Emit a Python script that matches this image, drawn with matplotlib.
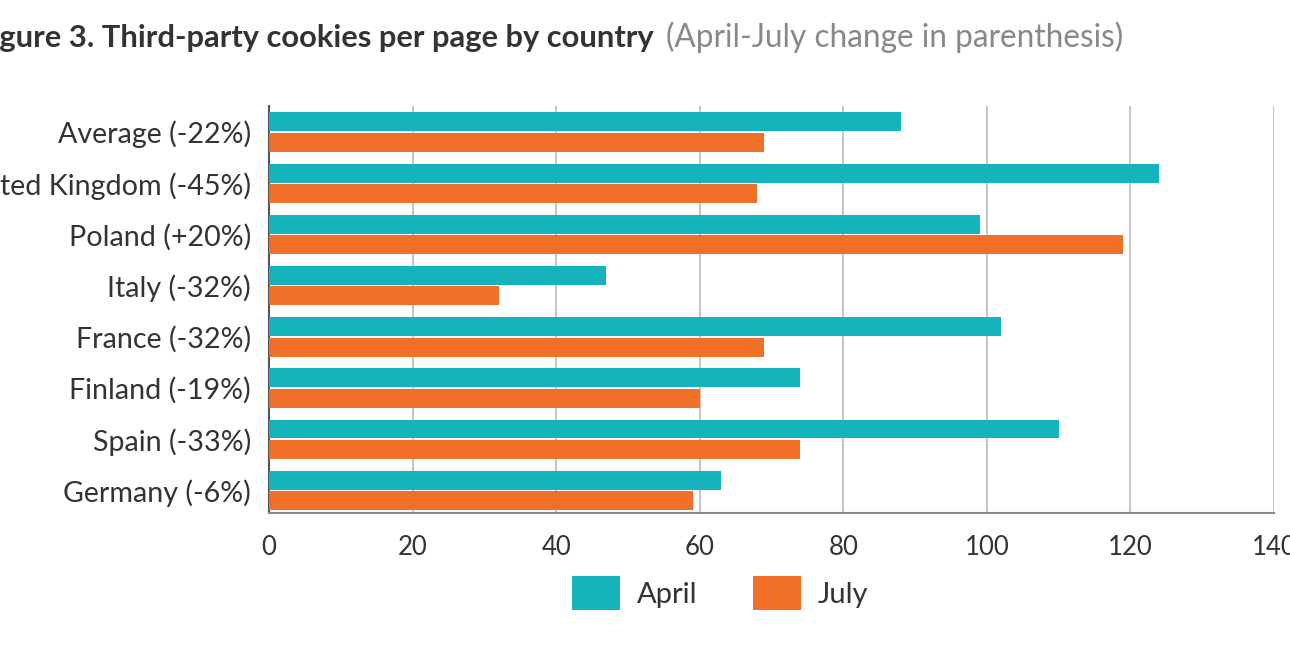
import matplotlib
matplotlib.use("Agg")
import matplotlib.pyplot as plt
import numpy as np

countries = ["Average (-22%)", "United Kingdom (-45%)", "Poland (+20%)", "Italy (-32%)",
             "France (-32%)", "Finland (-19%)", "Spain (-33%)", "Germany (-6%)"]
april = [88, 124, 99, 47, 102, 74, 110, 63]
july = [69, 68, 119, 32, 69, 60, 74, 59]
xticks = [0, 20, 40, 60, 80, 100, 120, 140]

teal = "#17B3BD"
orange = "#F07029"
plt.rcParams['font.family'] = ['Lato', 'DejaVu Sans']

fig = plt.figure(figsize=(12.9, 6.45), dpi=100)
ax = fig.add_axes([0.2085, 0.2047, 0.7791, 0.631])

y = np.arange(len(countries))
h = 0.37
ax.barh(y - 0.2, april, height=h, color=teal, label="April", zorder=3)
ax.barh(y + 0.2, july, height=h, color=orange, label="July", zorder=3)

ax.set_xlim(0, 140)
ax.set_ylim(7.44, -0.51)
ax.set_xticks(xticks)
ax.set_xticklabels([str(v) for v in xticks], fontsize=18.5, color="#333333")
ax.set_yticks(y)
ax.set_yticklabels(countries, fontsize=20.6, color="#333333")
ax.tick_params(axis='both', length=0)
ax.tick_params(axis='x', pad=16)
ax.tick_params(axis='y', pad=13)
ax.grid(axis='x', color="#BBBBBB", linewidth=1.2, zorder=0)
for s in ["top", "right"]:
    ax.spines[s].set_visible(False)
ax.spines["left"].set_color("#555555")
ax.spines["left"].set_linewidth(1.5)
ax.spines["bottom"].set_color("#888888")
ax.spines["bottom"].set_linewidth(1.5)

fig.text(654 / 1290, 1 - 47 / 645, "Figure 3. Third-party cookies per page by country",
         ha="right", va="baseline", fontsize=22.2, fontweight="bold", color="#333333")
fig.text(666 / 1290, 1 - 47 / 645, "(April-July change in parenthesis)",
         ha="left", va="baseline", fontsize=22.7, color="#888888")

fig.legend(loc="center", bbox_to_anchor=(720 / 1290, 1 - 593 / 645), ncol=2, frameon=False,
           fontsize=21, handlelength=1.65, handleheight=1.45, handletextpad=0.58,
           columnspacing=1.9, labelcolor="#333333")

fig.savefig("out.png", dpi=100)
